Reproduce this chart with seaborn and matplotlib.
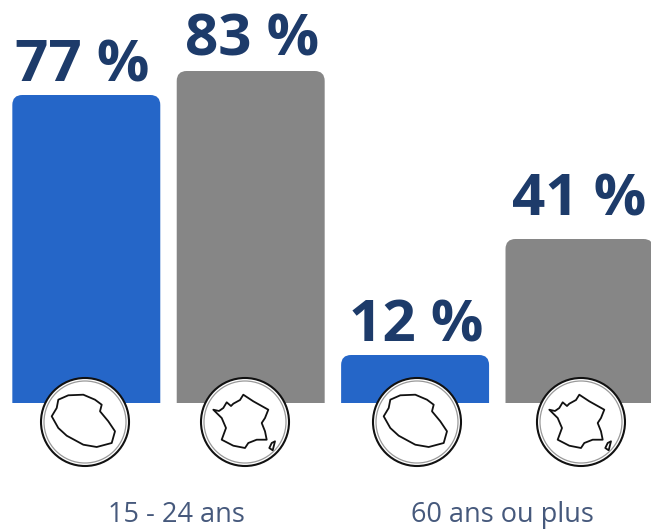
import matplotlib
matplotlib.use("Agg")
import matplotlib.pyplot as plt
from matplotlib.patches import Ellipse, PathPatch, Polygon
from matplotlib.path import Path
import seaborn as sns

BLUE = "#2566c8"
GREY = "#868686"
NAVY = "#1d3b6a"
SUB = "#46597c"

bars = ["a", "b", "c", "d"]
values = [77, 83, 12, 41]
value_labels = ["77 %", "83 %", "12 %", "41 %"]
colors = [BLUE, GREY, BLUE, GREY]
groups = ["15 - 24 ans", "60 ans ou plus"]
icons = ["reunion", "france", "reunion", "france"]

# label placement relative to each bar, in pixels
label_dx = [-4, 1.5, 1, 0]
label_dy = [13, 16, 13, 24]
icon_dx = [-1.3, -5.7, 1.9, 1.5]

reunion = [(-16.7,26.7),(-1.7,27.3),(10,22.3),(16.7,17.3),(15,10.7),(23.3,0.7),(30,-9.3),(26.7,-21),
           (11.7,-25),(-1.7,-22.7),(-18.3,-13.7),(-26.7,-6),(-33.3,5.7),(-28.3,14),(-26.7,22.3)]
france = [(-31.7,12.3),(-26,11),(-21.7,14),(-18.3,19.7),(-14,16),(-11.7,18.3),(-5,22),(-1.7,27.3),(8.3,20.7),
          (23.3,12.3),(20,4),(16.7,-1),(20,-9.3),(21.7,-17.7),(11.7,-17.7),(3.3,-21),(0,-26),(-11.7,-23.7),
          (-23.3,-17.7),(-19,-6),(-23.3,4)]
corsica = [(26.7,-21),(30,-19.3),(27.7,-28.3),(24.3,-26)]

sns.set_theme(style="white")
plt.rcParams["font.family"] = ["Open Sans", "DejaVu Sans"]

fig = plt.figure(figsize=(6.51, 5.29), dpi=100)
ax = fig.add_axes([0, 0, 1, 1])
sns.barplot(x=bars, y=values, hue=bars, palette=colors, width=0.9, saturation=1,
            legend=False, ax=ax, zorder=2)
ax.set_xlim(-0.525, 3.435)
ax.set_ylim(-31.5, 100.75)
ax.axis("off")

PX = 1 / 164.4   # x units per pixel
PY = 1 / 4       # y units per pixel
R = 10

for rect in list(ax.patches):
    x0, w, h = rect.get_x(), rect.get_width(), rect.get_height()
    rx, ry = R * PX, R * PY
    verts = [(x0, 0), (x0, h - ry), (x0, h), (x0 + rx, h), (x0 + w - rx, h),
             (x0 + w, h), (x0 + w, h - ry), (x0 + w, 0), (x0, 0)]
    codes = [Path.MOVETO, Path.LINETO, Path.CURVE3, Path.CURVE3, Path.LINETO,
             Path.CURVE3, Path.CURVE3, Path.LINETO, Path.CLOSEPOLY]
    ax.add_patch(PathPatch(Path(verts, codes), fc=rect.get_facecolor(), ec="none", zorder=2))
    rect.remove()

for i, (v, lab) in enumerate(zip(values, value_labels)):
    ax.text(i + label_dx[i] * PX, v + label_dy[i] * PY, lab, ha="center", va="baseline",
            fontsize=42, fontweight="bold", color=NAVY, zorder=4)

cy = -(422 - 403) * PY
for i, kind in enumerate(icons):
    cx = i + icon_dx[i] * PX
    ax.add_patch(Ellipse((cx, cy), 88 * PX, 88 * PY, fc="white", ec="#111111", lw=1.5, zorder=5))
    ax.add_patch(Ellipse((cx, cy), 82 * PX, 82 * PY, fc="none", ec="#999999", lw=0.9, zorder=5))
    shapes = [reunion] if kind == "reunion" else [france, corsica]
    for s in shapes:
        ax.add_patch(Polygon([(cx + a * PX, cy + b * PY) for a, b in s], closed=True,
                             fc="white", ec="#111111", lw=1.3, joinstyle="round", zorder=6))

ax.text(0.55, -(522 - 403) * PY, groups[0], ha="center", va="baseline", fontsize=19.5, color=SUB)
ax.text(2.53, -(522 - 403) * PY, groups[1], ha="center", va="baseline", fontsize=19.5, color=SUB)

fig.savefig("out.png", dpi=100, facecolor="white")
